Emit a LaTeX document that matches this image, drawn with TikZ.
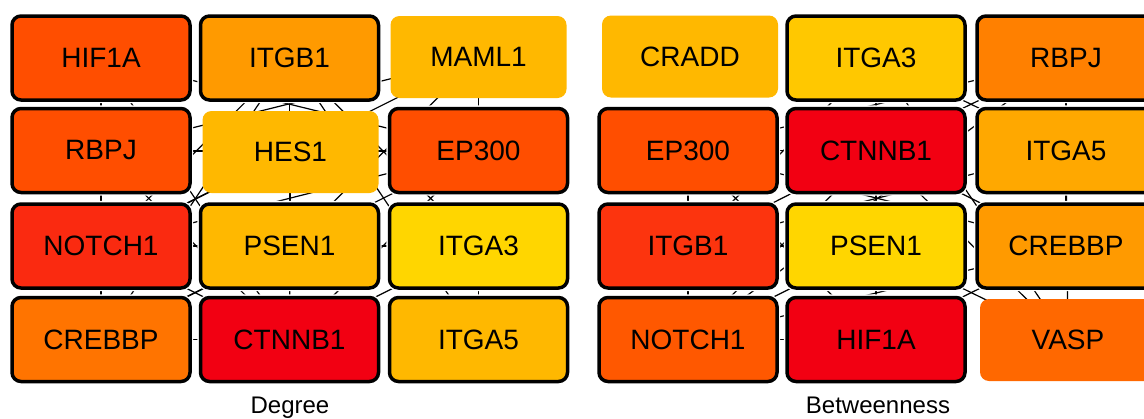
\documentclass[tikz,border=0pt]{standalone}
\usepackage{fontspec}
\setmainfont{Liberation Sans}
\usetikzlibrary{backgrounds}

% heat scale, from red (highest) to yellow (lowest)
\definecolor{hRed}{RGB}{242,0,18}
\definecolor{hRedOr}{RGB}{250,42,16}
\definecolor{hRedOrB}{RGB}{252,52,14}
\definecolor{hOrRed}{RGB}{255,78,0}
\definecolor{hOrRedB}{RGB}{255,88,0}
\definecolor{hOrDeep}{RGB}{255,104,0}
\definecolor{hOrange}{RGB}{255,116,0}
\definecolor{hOrangeB}{RGB}{255,128,0}
\definecolor{hOrLight}{RGB}{255,154,0}
\definecolor{hAmberD}{RGB}{255,168,0}
\definecolor{hAmber}{RGB}{255,184,0}
\definecolor{hGold}{RGB}{255,200,0}
\definecolor{hYellow}{RGB}{255,214,0}

\begin{document}
\begin{tikzpicture}[x=1pt,y=-1pt,
  gene/.style={rectangle, rounded corners=9pt, inner sep=0pt, text=black,
    font=\fontsize{28}{30}\selectfont},
  hub/.style={gene, minimum width=178pt, minimum height=84pt,
    draw=black, line width=3.5pt, preaction={draw=white, line width=6.2pt}},
  leaf/.style={gene, minimum width=176pt, minimum height=82pt},
  link/.style={black, line width=1.2pt},
  caption/.style={font=\fontsize{24}{28}\selectfont, anchor=base}]

\useasboundingbox (0,0) rectangle (1144,418);
\clip (0,0) rectangle (1144,418);

% ---------- Degree ----------
\node[hub, fill=hOrRed]   (dHIF) at (101,58)    {HIF1A};
\node[hub, fill=hOrLight] (dITGB1) at (289.5,58) {ITGB1};
\node[leaf, fill=hAmber]  (dMAML) at (478.5,57) {MAML1};
\node[hub, fill=hOrRed]   (dRBPJ) at (101,150.5) {RBPJ};
\node[leaf, fill=hAmber]  (dHES) at (290.5,152) {HES1};
\node[hub, fill=hOrRed]   (dEP) at (478.5,150.5) {EP300};
\node[hub, fill=hRedOr]   (dNOTCH) at (101,246) {NOTCH1};
\node[hub, fill=hAmber]   (dPSEN) at (289.5,246) {PSEN1};
\node[hub, fill=hYellow]  (dITGA3) at (478.5,246) {ITGA3};
\node[hub, fill=hOrange]  (dCREB) at (101,339.5) {CREBBP};
\node[hub, fill=hRed]     (dCTNN) at (289.5,339.5) {CTNNB1};
\node[hub, fill=hAmber]   (dITGA5) at (478.5,339.5) {ITGA5};
\node[caption] (dCap) at (290,413) {Degree};

% ---------- Betweenness ----------
\node[leaf, fill=hAmber]   (bCRADD) at (690,56.5) {CRADD};
\node[hub, fill=hGold]     (bITGA3) at (876,58) {ITGA3};
\node[hub, fill=hOrangeB]  (bRBPJ) at (1066,58) {RBPJ};
\node[hub, fill=hOrRed]    (bEP) at (688,150.5) {EP300};
\node[hub, fill=hRed]      (bCTNN) at (876,150.5) {CTNNB1};
\node[hub, fill=hAmberD]   (bITGA5) at (1066,150.5) {ITGA5};
\node[hub, fill=hRedOrB]   (bITGB1) at (688,246) {ITGB1};
\node[hub, fill=hYellow]   (bPSEN) at (876,246) {PSEN1};
\node[hub, fill=hOrLight]  (bCREB) at (1066,246) {CREBBP};
\node[hub, fill=hOrRedB]   (bNOTCH) at (688,339.5) {NOTCH1};
\node[hub, fill=hRed]      (bHIF) at (876,339.5) {HIF1A};
\node[leaf, fill=hOrDeep]  (bVASP) at (1068,340) {VASP};
\node[caption] (bCap) at (878,413) {Betweenness};

% ---------- white page and interactions, drawn behind the boxes ----------
\begin{pgfonlayer}{background}
\fill[white] (0,0) rectangle (1144,418);
\foreach \a/\b in {
  dHIF/dNOTCH, dHIF/dCREB, dHIF/dEP, dHIF/dCTNN,
  dITGB1/dITGA5, dITGB1/dITGA3, dITGB1/dCTNN, dITGB1/dNOTCH, dITGB1/dCREB,
  dMAML/dEP, dMAML/dNOTCH, dMAML/dRBPJ, dMAML/dPSEN,
  dRBPJ/dNOTCH, dRBPJ/dHES, dRBPJ/dEP, dRBPJ/dCTNN,
  dHES/dNOTCH, dHES/dEP, dHES/dCTNN,
  dEP/dCTNN, dEP/dCREB, dEP/dNOTCH,
  dNOTCH/dPSEN, dNOTCH/dCTNN, dNOTCH/dCREB,
  dPSEN/dCTNN, dPSEN/dCREB, dCREB/dCTNN,
  dITGA3/dITGA5, dITGA3/dCTNN, dITGA3/dPSEN}
  \draw[link] (\a.center) -- (\b.center);
\foreach \a/\b in {
  bITGA3/bCTNN, bITGA3/bITGB1, bITGA3/bITGA5, bITGA3/bVASP,
  bRBPJ/bNOTCH, bRBPJ/bEP, bRBPJ/bCREB, bRBPJ/bCTNN,
  bEP/bCTNN, bEP/bHIF, bEP/bCREB, bEP/bNOTCH,
  bCTNN/bITGB1, bCTNN/bPSEN, bCTNN/bCREB, bCTNN/bHIF, bCTNN/bVASP, bCTNN/bNOTCH,
  bITGA5/bITGB1, bITGA5/bVASP,
  bITGB1/bNOTCH, bITGB1/bPSEN,
  bPSEN/bNOTCH, bPSEN/bVASP, bPSEN/bHIF,
  bCREB/bHIF, bCREB/bNOTCH, bNOTCH/bHIF}
  \draw[link] (\a.center) -- (\b.center);
\end{pgfonlayer}
\end{tikzpicture}
\end{document}
